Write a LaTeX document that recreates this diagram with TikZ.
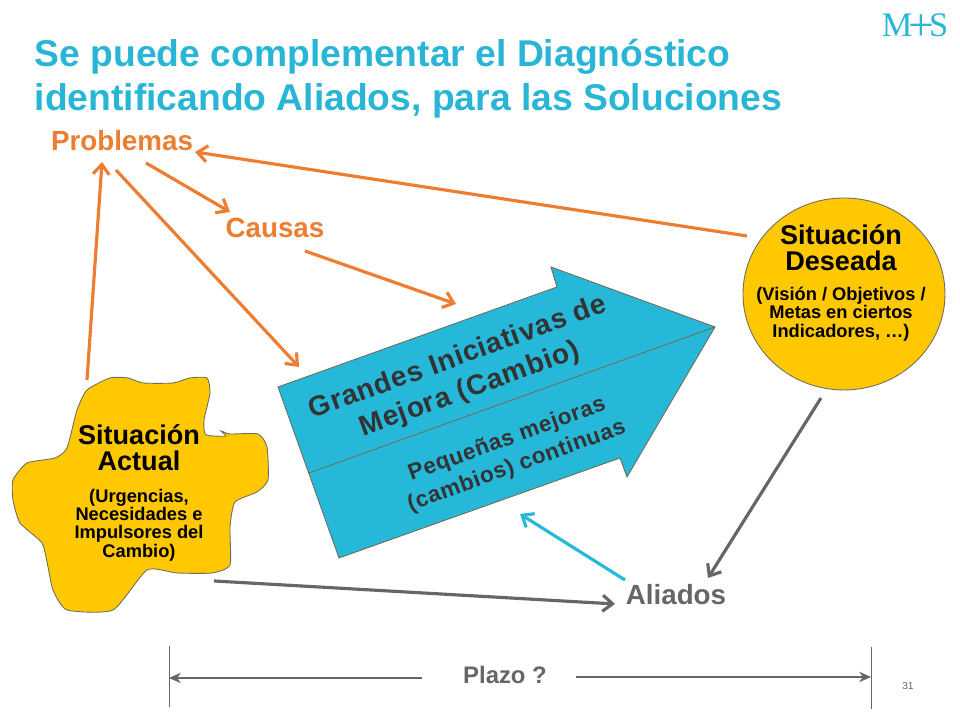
\documentclass[tikz,border=0pt]{standalone}
\usepackage{fontspec}
\setmainfont{Liberation Sans}
\newfontfamily\logofont{Liberation Serif}
\newfontfamily\widefont[LetterSpace=3]{Liberation Sans}
\usetikzlibrary{arrows.meta,positioning,shapes.geometric}
\definecolor{titlecyan}{RGB}{41,182,214}
\definecolor{arrowcyan}{RGB}{38,184,216}
\definecolor{linkorange}{RGB}{237,125,49}
\definecolor{goldfill}{RGB}{255,200,0}
\definecolor{linkgray}{RGB}{102,102,102}
\definecolor{edgegray}{RGB}{110,110,90}
\definecolor{inktext}{RGB}{51,51,51}
\tikzset{
  orangelink/.style={draw=linkorange,line width=.9pt,-{Straight Barb[length=2.8pt,width=4.6pt]}},
  graylink/.style={draw=linkgray,line width=.9pt,-{Straight Barb[length=2.8pt,width=4.6pt]}},
  cyanlink/.style={draw=arrowcyan,line width=.9pt,-{Straight Barb[length=2.8pt,width=4.6pt]}},
  spanlink/.style={draw=linkgray,line width=.3pt,-{Stealth[length=3.4pt,width=3pt]}},
  orangelabel/.style={text=linkorange,inner sep=0pt,font=\fontsize{7.9}{8}\selectfont\bfseries},
  headlabel/.style={align=center,inner sep=0pt,font=\fontsize{7.7}{7.5}\selectfont\bfseries},
  sublabel/.style={align=center,inner sep=0pt,font=\fontsize{5.2}{5.2}\selectfont\bfseries}
}
\begin{document}
\begin{tikzpicture}
\useasboundingbox (0,0) rectangle (9.6,7.2);
\node[anchor=north west,inner sep=0pt,align=left,text=titlecyan,font=\fontsize{10.6}{12.8}\selectfont\bfseries] (titulo) at (.34,6.82) {Se puede complementar el Diagnóstico\\identificando Aliados, para las Soluciones};
\node[inner sep=0pt,text=titlecyan,font=\fontsize{9.8}{10}\logofont] (logo) at (9.15,6.93) {M\kern-1.2pt\raisebox{-1.3pt}{\fontsize{13}{10}\selectfont+}\kern-1.4pt S};
\draw[draw=edgegray,line width=.25pt,fill=goldfill] plot[smooth cycle,tension=.35] coordinates {(.87,3.30) (1.10,3.42) (1.28,3.42) (1.43,3.37) (1.73,3.37) (1.90,3.42) (2.07,3.42) (2.10,3.27) (2.04,3.00) (2.05,2.86) (2.13,2.84) (2.26,2.84) (2.21,2.89) (2.30,2.86) (2.58,2.86) (2.67,2.73) (2.68,2.40) (2.57,2.28) (2.35,2.18) (2.30,1.93) (2.30,1.55) (2.12,1.47) (1.77,1.47) (1.47,1.50) (1.13,1.10) (.67,1.10) (.53,1.30) (.48,1.53) (.42,1.77) (.20,1.97) (.13,2.20) (.13,2.40) (.27,2.57) (.55,2.62) (.67,2.72) (.77,3.10)};
\node[headlabel] (actual) at (1.39,2.72) {Situación\\Actual};
\node[sublabel] (actualsub) at (1.39,1.95) {(Urgencias,\\Necesidades e\\Impulsores del\\Cambio)};
\draw[draw=edgegray,line width=.25pt,fill=arrowcyan] (2.78,3.33) -- (5.57,4.33) -- (5.51,4.53) -- (7.15,3.93) -- (6.27,2.43) -- (6.20,2.62) -- (3.39,1.62) -- cycle;
\draw[draw=edgegray,line width=.25pt] (3.09,2.47) -- (7.15,3.93);
\node[ellipse,draw=edgegray,line width=.25pt,fill=goldfill,minimum width=2.02cm,minimum height=1.92cm,inner sep=0pt] (deseada) at (8.44,4.26) {};
\node[headlabel] (deseadahead) at (8.41,4.72) {Situación\\Deseada};
\node[sublabel] (deseadasub) at (8.41,4.06) {(Visión / Objetivos /\\Metas en ciertos\\Indicadores, …)};
\node[orangelabel] (problemas) at (1.22,5.79) {Problemas};
\node[orangelabel] (causas) at (2.75,4.92) {Causas};
\node[inner sep=0pt,text=linkgray,font=\fontsize{7.9}{8}\selectfont\bfseries] (aliados) at (6.76,1.25) {Aliados};
\node[rotate=20,align=center,inner sep=0pt,text=inktext,font=\fontsize{8}{9.6}\widefont\bfseries] (grandes) at (4.64,3.46) {Grandes Iniciativas de\\Mejora (Cambio)};
\node[rotate=20,align=center,inner sep=0pt,text=inktext,font=\fontsize{6.4}{8}\widefont\bfseries] (pequenas) at (5.12,2.67) {Pequeñas mejoras\\(cambios) continuas};
\node[inner sep=0pt,text=linkgray,font=\fontsize{6.8}{7}\selectfont\bfseries] (plazo) at (5.05,.45) {Plazo ?};
\node[inner sep=0pt,text=linkgray,font=\fontsize{2.9}{3}\selectfont] (pagina) at (9.08,.34) {31};
\coordinate (limitea) at (1.69,.42);
\coordinate (limiteb) at (8.71,.43);
\draw[orangelink] ([shift={(-.97,.58)}]deseada.center) -- ([shift={(.73,-.11)}]problemas.center);
\draw[orangelink] ([shift={(.24,-.22)}]problemas.center) -- ([shift={(-.45,.16)}]causas.center);
\draw[orangelink] ([shift={(.30,-.23)}]causas.center) -- ([shift={(-.08,.70)}]grandes.center);
\draw[orangelink] ([shift={(-.06,-.29)}]problemas.center) -- ([shift={(-1.65,.07)}]grandes.center);
\draw[orangelink] ([shift={(-.52,.68)}]actual.center) -- ([shift={(-.20,-.21)}]problemas.center);
\draw[graylink] ([shift={(-.23,-1.04)}]deseada.center) -- ([shift={(.32,.17)}]aliados.center);
\draw[graylink] ([shift={(.75,-1.33)}]actual.center) -- ([shift={(-.61,-.09)}]aliados.center);
\draw[cyanlink] ([shift={(-.51,.15)}]aliados.center) -- ([shift={(.08,-.61)}]pequenas.center);
\draw[spanlink] ([shift={(-.83,-.03)}]plazo.center) -- (limitea);
\draw[spanlink] ([shift={(.71,-.02)}]plazo.center) -- (limiteb);
\draw[draw=linkgray,line width=.2pt] ([yshift=.32cm]limitea) -- ([yshift=-.29cm]limitea);
\draw[draw=linkgray,line width=.2pt] ([yshift=.30cm]limiteb) -- ([yshift=-.32cm]limiteb);
\end{tikzpicture}
\end{document}
